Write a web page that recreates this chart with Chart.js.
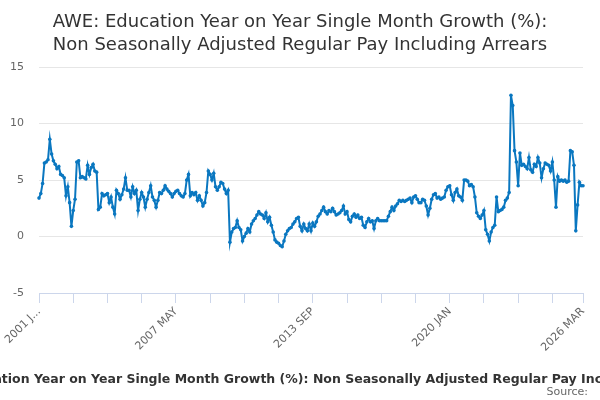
<!DOCTYPE html>
<html>
<head>
<meta charset="utf-8">
<script src="https://cdn.jsdelivr.net/npm/chart.js@4.4.1/dist/chart.umd.min.js"></script>
<style>
  html, body { margin: 0; padding: 0; background: #fff; }
</style>
</head>
<body>
<canvas id="chart" width="600" height="400"></canvas>
<script>
// chart text
const chartTitle = [
  'AWE: Education Year on Year Single Month Growth (%):',
  'Non Seasonally Adjusted Regular Pay Including Arrears'
];
const axisTitle = 'AWE: Education Year on Year Single Month Growth (%): Non Seasonally Adjusted Regular Pay Including Arrears';
const sourceText = 'Source:';

// monthly categories, 2001 JAN .. 2026 MAR
const monthNames = ['JAN', 'FEB', 'MAR', 'APR', 'MAY', 'JUN', 'JUL', 'AUG', 'SEP', 'OCT', 'NOV', 'DEC'];
const firstYear = 2001;
const lastYear = 2026;
const lastMonth = 3;

// year on year growth, %, one value per month
const growth = [
  3.4, 3.8, 4.7, 6.5, 6.6, 6.8, 8.6, 7.3, 6.7, 6.4, 6.0, 6.2,   // 2001
  5.5, 5.4, 5.2, 3.6, 4.4, 3.0, 0.9, 2.3, 3.3, 6.6, 6.7, 5.2,   // 2002
  5.3, 5.2, 5.1, 6.3, 5.5, 6.1, 6.4, 5.8, 5.7, 2.4, 2.6, 3.8,   // 2003
  3.6, 3.7, 3.8, 3.0, 3.5, 2.6, 2.0, 4.1, 3.8, 3.3, 3.7, 4.2,   // 2004
  5.2, 4.1, 4.1, 3.5, 4.4, 3.8, 4.1, 2.3, 3.3, 3.9, 3.5, 2.6,   // 2005
  3.3, 3.9, 4.5, 3.5, 3.2, 2.6, 3.2, 3.9, 3.8, 4.1, 4.5, 4.2,   // 2006
  4.0, 3.8, 3.5, 3.8, 4.0, 4.1, 3.8, 3.6, 3.5, 3.8, 5.0, 5.5,   // 2007
  3.6, 3.9, 3.7, 3.9, 3.2, 3.6, 3.2, 2.7, 3.0, 3.9, 5.8, 5.5,   // 2008
  5.0, 5.6, 4.4, 4.1, 4.4, 4.8, 4.7, 4.2, 3.8, 4.1, -0.5, 0.4,  // 2009
  0.7, 0.8, 1.4, 0.8, 0.6, -0.4, 0.0, 0.3, 0.7, 0.4, 1.1, 1.4,  // 2010
  1.6, 1.9, 2.2, 2.0, 1.9, 1.6, 2.1, 1.3, 1.7, 1.0, 0.4, -0.3,  // 2011
  -0.5, -0.6, -0.8, -0.9, -0.4, 0.2, 0.5, 0.7, 0.8, 1.1, 1.3, 1.6, // 2012
  1.7, 0.9, 0.5, 1.1, 0.7, 0.5, 1.1, 0.5, 1.2, 0.9, 1.3, 1.8,   // 2013
  2.0, 2.3, 2.6, 2.2, 2.0, 2.3, 2.2, 2.5, 2.2, 1.9, 2.0, 2.1,   // 2014
  2.3, 2.7, 2.0, 2.2, 1.5, 1.3, 1.8, 2.0, 1.7, 1.9, 1.6, 1.7,   // 2015
  1.0, 0.8, 1.3, 1.6, 1.3, 1.4, 0.7, 1.4, 1.6, 1.4, 1.4, 1.4,   // 2016
  1.4, 1.4, 1.8, 2.2, 2.6, 2.3, 2.7, 2.9, 3.2, 3.1, 3.2, 3.1,   // 2017
  3.2, 3.3, 3.4, 3.0, 3.5, 3.6, 3.3, 3.0, 3.0, 3.3, 3.2, 2.7,   // 2018
  1.9, 2.5, 3.3, 3.7, 3.8, 3.4, 3.5, 3.3, 3.4, 3.5, 4.1, 4.4,   // 2019
  4.5, 3.7, 3.2, 3.9, 4.2, 3.6, 3.5, 3.2, 5.0, 5.0, 4.9, 4.5,   // 2020
  4.6, 4.4, 3.5, 2.1, 1.8, 1.6, 1.9, 2.3, 0.6, 0.2, -0.4, 0.4,  // 2021
  0.8, 1.0, 3.5, 2.2, 2.3, 2.4, 2.6, 3.2, 3.4, 3.9, 12.5, 11.6, // 2022
  7.6, 6.6, 4.5, 7.4, 6.3, 6.4, 6.2, 6.0, 7.0, 5.9, 5.7, 6.4,   // 2023
  6.2, 7.0, 6.5, 5.2, 6.0, 6.5, 6.4, 6.3, 5.8, 6.6, 5.0, 2.6,   // 2024
  5.3, 4.9, 5.0, 4.9, 5.0, 4.8, 4.9, 7.6, 7.5, 6.3, 0.5, 2.8,   // 2025
  4.8, 4.5, 4.5                                                  // 2026
];

// x axis: tick marks every 19 months, labels on some of them
const tickPositions = [0, 19, 38, 57, 76, 95, 114, 133, 152, 171, 190, 209, 228, 247, 266, 285, 302];
const labelPositions = [0, 76, 152, 228, 302];
const tickLabels = ['2001 J...', '2007 MAY', '2013 SEP', '2020 JAN', '2026 MAR'];

// y axis
const yMin = -5;
const yMax = 15;
const yStep = 5;

const months = [];
for (let y = firstYear; y <= lastYear; y++) {
  for (let m = 0; m < 12; m++) {
    if (y === lastYear && m >= lastMonth) break;
    months.push(y + ' ' + monthNames[m]);
  }
}

const FONT = "'DejaVu Sans', 'Liberation Sans', sans-serif";
const LINE = '#0a77c0';

// axis title (wider than the canvas, so drawn without maxWidth) and source note
const footerPlugin = {
  id: 'footerText',
  afterDraw(chart) {
    const ctx = chart.ctx;
    const area = chart.chartArea;
    ctx.save();
    ctx.textBaseline = 'middle';
    ctx.font = 'bold 12.5px ' + FONT;
    ctx.fillStyle = '#333333';
    ctx.textAlign = 'center';
    ctx.fillText(axisTitle, (area.left + area.right) / 2, 380);
    ctx.font = '11px ' + FONT;
    ctx.fillStyle = '#666666';
    ctx.textAlign = 'right';
    ctx.fillText(sourceText, 588, 392);
    ctx.restore();
  }
};

new Chart(document.getElementById('chart'), {
  type: 'line',
  data: {
    labels: months,
    datasets: [{
      label: axisTitle,
      data: growth,
      borderColor: LINE,
      backgroundColor: LINE,
      borderWidth: 2,
      pointRadius: 1.8,
      pointBorderWidth: 0,
      pointHoverRadius: 2,
      tension: 0
    }]
  },
  options: {
    responsive: false,
    animation: false,
    layout: { padding: 0 },
    plugins: {
      legend: { display: false },
      tooltip: { enabled: false },
      title: {
        display: true,
        text: chartTitle,
        color: '#333333',
        font: { family: FONT, size: 18, weight: 'normal', lineHeight: 1.28 },
        padding: { top: 10.5, bottom: 10.5 }
      }
    },
    scales: {
      x: {
        afterBuildTicks: (axis) => {
          axis.ticks = tickPositions.map(v => ({ value: v }));
        },
        afterFit: (axis) => { axis.height = 107; },
        ticks: {
          autoSkip: false,
          maxRotation: 45,
          minRotation: 45,
          padding: 2,
          color: '#666666',
          font: { family: FONT, size: 11 },
          callback: (val) => {
            const k = labelPositions.indexOf(val);
            return k >= 0 ? tickLabels[k] : '';
          }
        },
        grid: {
          drawOnChartArea: false,
          drawTicks: true,
          tickLength: 10,
          color: '#ccd6eb'
        },
        border: { display: true, color: '#ccd6eb' }
      },
      y: {
        min: yMin,
        max: yMax,
        afterFit: (axis) => { axis.width = 39; },
        ticks: {
          stepSize: yStep,
          padding: 15,
          color: '#666666',
          font: { family: FONT, size: 11 }
        },
        grid: { color: '#e6e6e6', drawTicks: false },
        border: { display: false }
      },
      // empty right-hand gutter so the plot ends where the reference does
      gutter: {
        position: 'right',
        afterFit: (axis) => { axis.width = 17; },
        ticks: { display: false },
        grid: { display: false },
        border: { display: false }
      }
    }
  },
  plugins: [footerPlugin]
});
</script>
</body>
</html>
